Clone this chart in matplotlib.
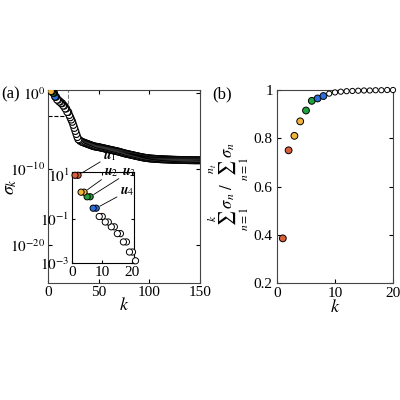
import numpy as np
import matplotlib
matplotlib.use("Agg")
import matplotlib.pyplot as plt

plt.rcParams['font.family'] = ['Liberation Serif', 'DejaVu Serif']
plt.rcParams['mathtext.fontset'] = 'stix'
plt.rcParams['font.size'] = 11

# log10 of singular values sigma_k, k = 1..150
log_sigma = [1.0, 1.0, 0.23, 0.23, 0.02, 0.02, -0.5, -0.5, -0.88, -0.88,
             -1.13, -1.13, -1.35, -1.35, -1.66, -1.66, -2.04, -2.04, -2.5, -2.5,
             -2.9, -3.2, -3.5, -3.8, -4.2, -4.6, -5.0, -5.4, -5.8, -6.1,
             -6.2, -6.3, -6.4, -6.45, -6.5, -6.55, -6.6, -6.65, -6.7, -6.75,
             -6.8, -6.85, -6.9, -6.95, -7.0, -7.02, -7.05, -7.08, -7.1, -7.12,
             -7.15, -7.18, -7.21, -7.24, -7.27, -7.3, -7.33, -7.36, -7.39, -7.42,
             -7.45, -7.48, -7.51, -7.54, -7.57, -7.6, -7.63, -7.66, -7.69, -7.72,
             -7.76, -7.8, -7.84, -7.88, -7.92, -7.95, -7.98, -8.01, -8.04, -8.07,
             -8.1, -8.13, -8.16, -8.19, -8.22, -8.25, -8.28, -8.31, -8.34, -8.37,
             -8.4, -8.43, -8.46, -8.48, -8.5, -8.52, -8.54, -8.56, -8.58, -8.6,
             -8.61, -8.62, -8.63, -8.64, -8.65, -8.66, -8.67, -8.68, -8.69, -8.7,
             -8.71, -8.72, -8.72, -8.73, -8.73, -8.74, -8.74, -8.75, -8.75, -8.76,
             -8.76, -8.77, -8.77, -8.78, -8.78, -8.79, -8.79, -8.8, -8.8, -8.8,
             -8.81, -8.81, -8.81, -8.82, -8.82, -8.82, -8.83, -8.83, -8.83, -8.84,
             -8.84, -8.84, -8.84, -8.85, -8.85, -8.85, -8.85, -8.85, -8.85, -8.85]
cum_energy = [0.385, 0.75, 0.81, 0.87, 0.915, 0.955, 0.965, 0.975, 0.985, 0.99,
              0.993, 0.995, 0.996, 0.997, 0.998, 0.998, 0.999, 0.999, 1.0, 1.0]
mode_colors = ['#d9603b', '#d9603b', '#f0b43c', '#f0b43c', '#1fa33c', '#1fa33c',
               '#2a6fdb', '#2a6fdb']

k = np.arange(1, len(log_sigma) + 1)
sigma = 10.0 ** np.array(log_sigma)
fc_main = ['white'] * len(k)
for i, c in enumerate(mode_colors):
    fc_main[i] = c

fig = plt.figure(figsize=(4, 4), dpi=100)
ax = fig.add_axes([0.12, 0.2925, 0.38, 0.4825])
ax.scatter(k[::-1], sigma[::-1], s=24, facecolors=fc_main[::-1], edgecolors='black', linewidths=0.8, zorder=3)
ax.set_yscale('log')
ax.set_xlim(0, 150)
ax.set_ylim(10**-25, 10**0.4)
ax.set_yticks([1e0, 1e-10, 1e-20])
ax.set_yticklabels([r'$10^{0}$', r'$10^{-10}$', r'$10^{-20}$'])
ax.yaxis.set_minor_locator(matplotlib.ticker.NullLocator())
ax.set_xticks([0, 50, 100, 150])
ax.tick_params(direction='in', top=True, right=True, length=3, pad=2)
ax.plot([0, 20], [1e-3, 1e-3], 'k--', lw=0.8, zorder=1)
ax.plot([20, 20], [1e-3, 10**0.4], color='gray', ls='--', lw=0.8, zorder=1)
ax.set_xlabel(r'$k$', fontsize=13, labelpad=-1)
ax.set_ylabel(r'$\sigma_k$', fontsize=13)
ax.yaxis.set_label_coords(-0.19, 0.5)
for s in ax.spines.values():
    s.set_color('#444444')
fig.text(0.003, 0.755, '(a)', fontsize=12)

ins = fig.add_axes([0.18, 0.3425, 0.155, 0.2275])
n_in = 21
ins.scatter(k[:n_in][::-1], sigma[:n_in][::-1], s=20, facecolors=fc_main[:n_in][::-1],
            edgecolors='black', linewidths=0.7, zorder=3, clip_on=False)
ins.set_yscale('log')
ins.set_xlim(0, 20.5)
ins.set_ylim(1e-3, 10**1.15)
ins.set_yticks([1e1, 1e-1, 1e-3])
ins.set_yticklabels([r'$10^{1}$', r'$10^{-1}$', r'$10^{-3}$'])
ins.yaxis.set_minor_locator(matplotlib.ticker.NullLocator())
ins.set_xticks([0, 10, 20])
ins.tick_params(direction='in', top=True, right=True, length=2, labelsize=11, pad=2)
labels = [(2, r'$\boldsymbol{u}_1$', (0.5, 1.1)), (4, r'$\boldsymbol{u}_2$', (0.52, 0.92)),
          (6, r'$\boldsymbol{u}_3$', (0.8, 0.92)), (8, r'$\boldsymbol{u}_4$', (0.77, 0.71))]
for kk, lab, pos in labels:
    ins.annotate(lab, xy=(kk, sigma[kk - 1]), xytext=pos, textcoords='axes fraction',
                 fontsize=10, va='bottom',
                 arrowprops=dict(arrowstyle='-', lw=0.6, color='black',
                                 shrinkA=0, shrinkB=3), annotation_clip=False)

ax2 = fig.add_axes([0.6925, 0.2925, 0.29, 0.4825])
k2 = np.arange(1, len(cum_energy) + 1)
fc2 = mode_colors + ['white'] * (len(k2) - len(mode_colors))
ax2.scatter(k2, cum_energy, s=[24] * 8 + [14] * (len(k2) - 8), facecolors=fc2,
            edgecolors='black', linewidths=0.7, zorder=3, clip_on=False)
ax2.set_xlim(0, 20)
ax2.set_ylim(0.2, 1.0)
ax2.set_xticks([0, 10, 20])
ax2.set_yticks([0.2, 0.4, 0.6, 0.8, 1.0])
ax2.set_yticklabels(['0.2', '0.4', '0.6', '0.8', '1'])
ax2.tick_params(direction='in', top=True, right=True, length=3, pad=3)
ax2.set_xlabel(r'$k$', fontsize=13, labelpad=-1)
ax2.set_ylabel(r'$\sum_{n=1}^{k}\sigma_n\ /\ \sum_{n=1}^{n_t}\sigma_n$', fontsize=12, labelpad=2)
for s in ax2.spines.values():
    s.set_color('#444444')
fig.text(0.53, 0.755, '(b)', fontsize=12)

fig.savefig('out.png', dpi=100)
